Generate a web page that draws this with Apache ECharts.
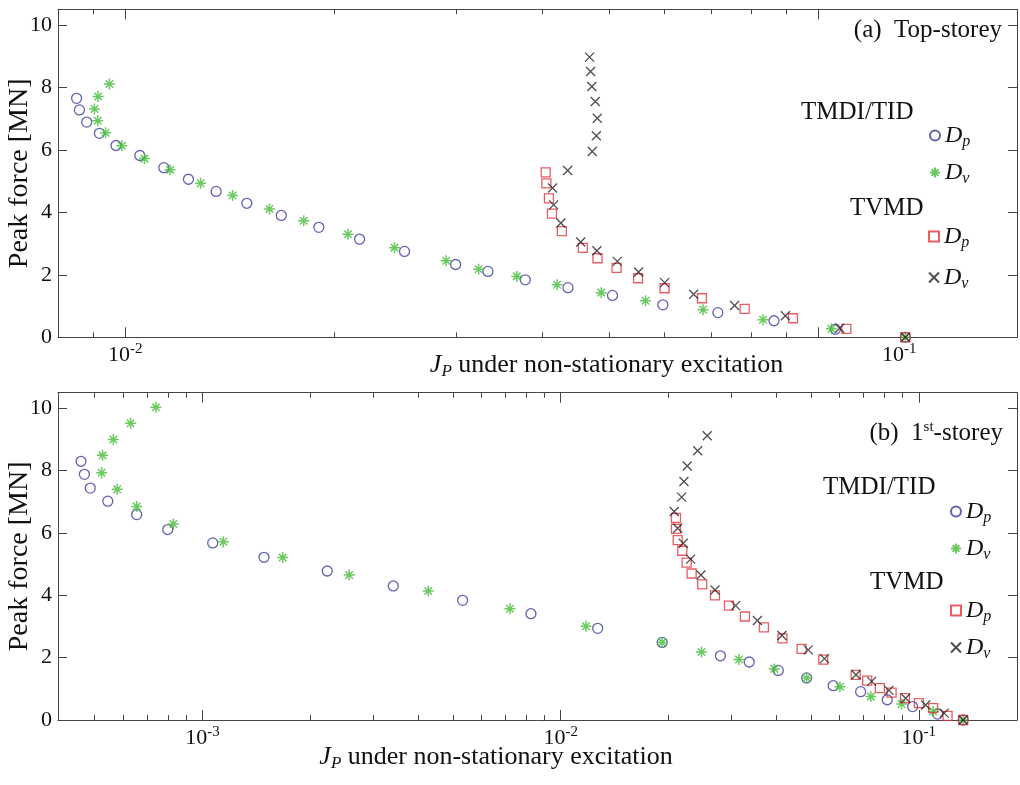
<!DOCTYPE html>
<html>
<head>
<meta charset="utf-8">
<title>Peak force vs J_P</title>
<script src="https://cdn.jsdelivr.net/npm/echarts@6.0.0/dist/echarts.min.js"></script>
<style>
html, body { margin: 0; padding: 0; background: #fff; }
#chart { width: 1020px; height: 785px; }
</style>
</head>
<body>
<div id="chart"></div>
<script>
// (a) top-storey, TMDI/TID
var aTmdiDpX = [0.00851, 0.00859, 0.00880, 0.00918, 0.00970, 0.01050, 0.01137, 0.01234, 0.01353, 0.01498, 0.01680, 0.01903,
    0.02179, 0.02530, 0.02998, 0.03338, 0.03779, 0.04355, 0.05049, 0.05970, 0.07166, 0.08634, 0.1059, 0.1336];
var aTmdiDpY = [7.65, 7.28, 6.89, 6.53, 6.14, 5.82, 5.43, 5.06, 4.67, 4.29, 3.90, 3.52,
    3.14, 2.75, 2.33, 2.11, 1.84, 1.59, 1.34, 1.04, 0.79, 0.53, 0.26, 0];
var aTmdiDvX = [0.00949, 0.00914, 0.00903, 0.00913, 0.00937, 0.00989, 0.01066, 0.01161, 0.01285, 0.01429, 0.01615, 0.01810,
    0.02096, 0.02447, 0.02905, 0.03236, 0.03674, 0.04201, 0.04864, 0.05636, 0.06821, 0.08325, 0.1045, 0.1336];
var aTmdiDvY = [8.11, 7.71, 7.31, 6.93, 6.55, 6.13, 5.72, 5.36, 4.93, 4.54, 4.11, 3.73,
    3.30, 2.87, 2.45, 2.18, 1.95, 1.68, 1.43, 1.17, 0.88, 0.56, 0.27, 0];
// (a) top-storey, TVMD
var aTvmdDpX = [0.04044, 0.04053, 0.04088, 0.04129, 0.04267, 0.04575, 0.04804, 0.05118, 0.05497, 0.06004, 0.06797, 0.07833,
    0.09197, 0.1098, 0.1336];
var aTvmdDpY = [5.28, 4.93, 4.45, 3.96, 3.40, 2.86, 2.53, 2.22, 1.89, 1.57, 1.25, 0.91, 0.61, 0.27, 0];
var aTvmdDvX = [0.04679, 0.04694, 0.04714, 0.04768, 0.04800, 0.04785, 0.04721, 0.04350, 0.04137, 0.04153, 0.04253, 0.04543,
    0.04794, 0.05130, 0.05506, 0.06004, 0.06612, 0.07574, 0.08967, 0.1074, 0.1336];
var aTvmdDvY = [8.97, 8.51, 8.03, 7.55, 7.01, 6.45, 5.95, 5.34, 4.78, 4.24, 3.66, 3.05,
    2.77, 2.43, 2.09, 1.75, 1.38, 1.02, 0.69, 0.29, 0];

// (b) 1st-storey, TMDI/TID
var bTmdiDpX = [0.000458, 0.000468, 0.000486, 0.000544, 0.000655, 0.000800, 0.001068, 0.001485, 0.002230, 0.003410, 0.005325, 0.008262,
    0.01269, 0.01921, 0.02793, 0.03361, 0.04051, 0.04862, 0.05768, 0.06880, 0.08164, 0.09610, 0.1129, 0.1330];
var bTmdiDpY = [8.30, 7.88, 7.44, 7.02, 6.59, 6.11, 5.68, 5.22, 4.78, 4.30, 3.84, 3.41,
    2.94, 2.49, 2.06, 1.86, 1.59, 1.35, 1.10, 0.91, 0.65, 0.43, 0.19, 0];
var bTmdiDvX = [0.000741, 0.000630, 0.000564, 0.000526, 0.000523, 0.000578, 0.000655, 0.000829, 0.001143, 0.001674, 0.002568, 0.004270,
    0.007220, 0.01177, 0.01921, 0.02473, 0.03146, 0.03948, 0.04862, 0.06022, 0.07349, 0.08954, 0.1097, 0.1330];
var bTmdiDvY = [10.03, 9.52, 9.00, 8.49, 7.93, 7.40, 6.85, 6.29, 5.72, 5.21, 4.65, 4.14,
    3.57, 3.01, 2.49, 2.18, 1.94, 1.64, 1.35, 1.07, 0.75, 0.51, 0.27, 0];
// (b) 1st-storey, TVMD
var bTvmdDpX = [0.02099, 0.02099, 0.02122, 0.02186, 0.02248, 0.02321, 0.02485, 0.02697, 0.02951, 0.03270, 0.03695, 0.04162,
    0.04708, 0.05410, 0.06663, 0.07177, 0.07786, 0.08395, 0.09145, 0.1001, 0.1097, 0.1203, 0.1330];
var bTvmdDpY = [6.48, 6.13, 5.77, 5.43, 5.05, 4.70, 4.35, 4.00, 3.67, 3.32, 2.97, 2.62,
    2.28, 1.94, 1.45, 1.26, 1.02, 0.88, 0.70, 0.54, 0.38, 0.13, 0];
var bTvmdDvX = [0.02566, 0.02413, 0.02257, 0.02209, 0.02177, 0.02076, 0.02122, 0.02199, 0.02306, 0.02465, 0.02697, 0.03081,
    0.03543, 0.04148, 0.04912, 0.05451, 0.06676, 0.07382, 0.08250, 0.09186, 0.1045, 0.1177, 0.1330];
var bTvmdDvY = [9.12, 8.64, 8.15, 7.65, 7.15, 6.69, 6.15, 5.67, 5.16, 4.65, 4.17, 3.67,
    3.19, 2.71, 2.25, 1.97, 1.45, 1.24, 0.95, 0.70, 0.48, 0.22, 0];

// axis ticks
var aMajorTicks = [0.01, 0.1];
var aMinorTicks = [0.009, 0.02, 0.03, 0.04, 0.05, 0.06, 0.07, 0.08, 0.09];
var bMajorTicks = [0.001, 0.01, 0.1];
var bMinorTicks = [0.0005, 0.0006, 0.0007, 0.0008, 0.0009, 0.002, 0.003, 0.004, 0.005, 0.006, 0.007, 0.008, 0.009,
    0.02, 0.03, 0.04, 0.05, 0.06, 0.07, 0.08, 0.09];
var yTicks = [0, 2, 4, 6, 8, 10];

var FONT = '"Liberation Serif", "Times New Roman", serif';
var AXIS_COLOR = '#444';
var TEXT_COLOR = '#111';

var chart = echarts.init(document.getElementById('chart'));

function pairs(xs, ys) {
    return xs.map(function (x, i) { return [x, ys[i]]; });
}

var asterisk = 'path://M5,0L5,10M0,5L10,5M1.6,1.6L8.4,8.4M1.6,8.4L8.4,1.6';
var cross = 'path://M0,0L10,10M0,10L10,0';

var labelRich = {
    b: { fontFamily: FONT, fontSize: 22, lineHeight: 24, color: TEXT_COLOR },
    s: { fontFamily: FONT, fontSize: 15, lineHeight: 15, padding: [0, 0, 12, 0], color: TEXT_COLOR },
    g: { fontFamily: FONT, fontSize: 22, width: 162 }
};
var nameRich = {
    i: { fontFamily: FONT, fontSize: 26, lineHeight: 28, fontStyle: 'italic', color: TEXT_COLOR },
    sub: { fontFamily: FONT, fontSize: 17, lineHeight: 17, fontStyle: 'italic', padding: [13, 0, 0, 0], color: TEXT_COLOR },
    t: { fontFamily: FONT, fontSize: 26, lineHeight: 28, color: TEXT_COLOR }
};
var JP_NAME = '{i|J}{sub|P}{t| under non-stationary excitation}';

function xAxisPair(grid, pos, min, max, major, minor, withLabels, shiftTop, namePad, nameGap) {
    var main = {
        type: 'log', logBase: 10, gridIndex: grid, position: pos, min: min, max: max,
        axisLine: { show: true, onZero: false, lineStyle: { color: AXIS_COLOR, width: 1 } },
        axisTick: { show: true, inside: true, length: 10, customValues: major, lineStyle: { color: AXIS_COLOR } },
        axisLabel: { show: false },
        splitLine: { show: false },
        minorTick: { show: false }
    };
    if (withLabels) {
        main.axisLabel = {
            show: true, customValues: major, margin: 6, color: TEXT_COLOR,
            formatter: function (v) {
                var e = Math.round(Math.log(v) / Math.LN10);
                var head = (shiftTop && e === -1) ? '{g| }' : '';
                return head + '{b|10}{s|' + e + '}';
            },
            rich: labelRich
        };
        main.name = JP_NAME;
        main.nameLocation = 'middle';
        main.nameGap = nameGap;
        main.nameMoveOverlap = false;
        main.nameTextStyle = { fontFamily: FONT, fontSize: 26, color: TEXT_COLOR, padding: namePad, rich: nameRich };
    }
    var sub = {
        type: 'log', logBase: 10, gridIndex: grid, position: pos, min: min, max: max,
        axisLine: { show: false, onZero: false },
        axisTick: { show: true, inside: true, length: 5, customValues: minor, lineStyle: { color: AXIS_COLOR } },
        axisLabel: { show: false },
        splitLine: { show: false }
    };
    return [main, sub];
}

function yAxisOf(grid, pos, withLabels) {
    var ax = {
        type: 'value', gridIndex: grid, position: pos, min: 0, max: 10.5,
        axisLine: { show: true, onZero: false, lineStyle: { color: AXIS_COLOR, width: 1 } },
        axisTick: { show: true, inside: true, length: 9, customValues: yTicks, lineStyle: { color: AXIS_COLOR } },
        axisLabel: { show: false },
        splitLine: { show: false }
    };
    if (withLabels) {
        ax.axisLabel = { show: true, customValues: yTicks, margin: 6, color: TEXT_COLOR, fontFamily: FONT, fontSize: 22 };
        ax.name = 'Peak force [MN]';
        ax.nameLocation = 'middle';
        ax.nameGap = 24;
        ax.nameMoveOverlap = false;
        ax.nameTextStyle = { fontFamily: FONT, fontSize: 28, color: TEXT_COLOR };
    }
    return ax;
}

var xAxes = [].concat(
    xAxisPair(0, 'bottom', 0.008, 0.1936, aMajorTicks, aMinorTicks, true, true, [0, 0, 0, 138], 14),
    xAxisPair(0, 'top', 0.008, 0.1936, aMajorTicks, aMinorTicks, false),
    xAxisPair(1, 'bottom', 0.000395, 0.188, bMajorTicks, bMinorTicks, true, false, [0, 83, 0, 0], 23),
    xAxisPair(1, 'top', 0.000395, 0.188, bMajorTicks, bMinorTicks, false)
);
var yAxes = [yAxisOf(0, 'left', true), yAxisOf(0, 'right', false), yAxisOf(1, 'left', true), yAxisOf(1, 'right', false)];

var styles = {
    tmdiDp: { symbol: 'circle', symbolSize: 10, itemStyle: { color: 'rgba(0,0,0,0)', borderColor: '#3b3b9c', borderWidth: 1.3 } },
    tmdiDv: { symbol: asterisk, symbolSize: 11, itemStyle: { color: 'rgba(0,0,0,0)', borderColor: '#45bd38', borderWidth: 1.5 } },
    tvmdDp: { symbol: 'rect', symbolSize: 9, itemStyle: { color: 'rgba(0,0,0,0)', borderColor: '#e2333c', borderWidth: 1.3 } },
    tvmdDv: { symbol: cross, symbolSize: 9, itemStyle: { color: 'rgba(0,0,0,0)', borderColor: '#222', borderWidth: 1.3 } }
};

function scatter(name, kind, xi, yi, xs, ys) {
    var st = styles[kind];
    return {
        name: name, type: 'scatter', xAxisIndex: xi, yAxisIndex: yi,
        data: pairs(xs, ys),
        symbol: st.symbol, symbolSize: st.symbolSize, itemStyle: st.itemStyle,
        silent: true, clip: false
    };
}

var series = [
    scatter('a-tmdi-dp', 'tmdiDp', 0, 0, aTmdiDpX, aTmdiDpY),
    scatter('a-tmdi-dv', 'tmdiDv', 0, 0, aTmdiDvX, aTmdiDvY),
    scatter('a-tvmd-dp', 'tvmdDp', 0, 0, aTvmdDpX, aTvmdDpY),
    scatter('a-tvmd-dv', 'tvmdDv', 0, 0, aTvmdDvX, aTvmdDvY),
    scatter('b-tmdi-dp', 'tmdiDp', 4, 2, bTmdiDpX, bTmdiDpY),
    scatter('b-tmdi-dv', 'tmdiDv', 4, 2, bTmdiDvX, bTmdiDvY),
    scatter('b-tvmd-dp', 'tvmdDp', 4, 2, bTvmdDpX, bTvmdDpY),
    scatter('b-tvmd-dv', 'tvmdDv', 4, 2, bTvmdDvX, bTvmdDvY)
];

var legendRich = {
    d: { fontFamily: FONT, fontSize: 24, lineHeight: 26, fontStyle: 'italic', color: TEXT_COLOR },
    s: { fontFamily: FONT, fontSize: 16, lineHeight: 16, fontStyle: 'italic', padding: [13, 0, 0, 0], color: TEXT_COLOR }
};
function legendOf(names, left, top, gap) {
    return {
        data: names, orient: 'vertical', left: left, top: top, padding: 0,
        itemWidth: 10, itemHeight: 10, itemGap: gap, selectedMode: false,
        formatter: function (n) { return n.slice(-1) === 'p' ? '{d|D}{s|p}' : '{d|D}{s|v}'; },
        textStyle: { rich: legendRich }
    };
}

var titleRich = { sup: { fontFamily: FONT, fontSize: 15, lineHeight: 15, padding: [0, 0, 12, 0], color: TEXT_COLOR } };
function label(text, pos) {
    var t = { text: text, padding: 0, textStyle: { fontFamily: FONT, fontSize: 25, lineHeight: 26, fontWeight: 'normal', color: TEXT_COLOR, rich: titleRich } };
    for (var k in pos) t[k] = pos[k];
    return t;
}

chart.setOption({
    animation: false,
    backgroundColor: '#fff',
    grid: [
        { left: 58, top: 9.3, width: 959, height: 328, outerBoundsMode: 'none' },
        { left: 58, top: 392.7, width: 959, height: 327.3, outerBoundsMode: 'none' }
    ],
    xAxis: xAxes,
    yAxis: yAxes,
    title: [
        label('(a)  Top-storey', { right: 18, top: 17 }),
        label('TMDI/TID', { left: 801, top: 99 }),
        label('TVMD', { left: 850, top: 195 }),
        label('(b)  1{sup|st}-storey', { right: 17, top: 420 }),
        label('TMDI/TID', { left: 823, top: 474 }),
        label('TVMD', { left: 870, top: 569 })
    ],
    legend: [
        legendOf(['a-tmdi-dp', 'a-tmdi-dv'], 929, 121, 8),
        legendOf(['a-tvmd-dp', 'a-tvmd-dv'], 928, 222, 12),
        legendOf(['b-tmdi-dp', 'b-tmdi-dv'], 950, 497, 8),
        legendOf(['b-tvmd-dp', 'b-tvmd-dv'], 950, 596, 8)
    ],
    series: series
});
</script>
</body>
</html>
